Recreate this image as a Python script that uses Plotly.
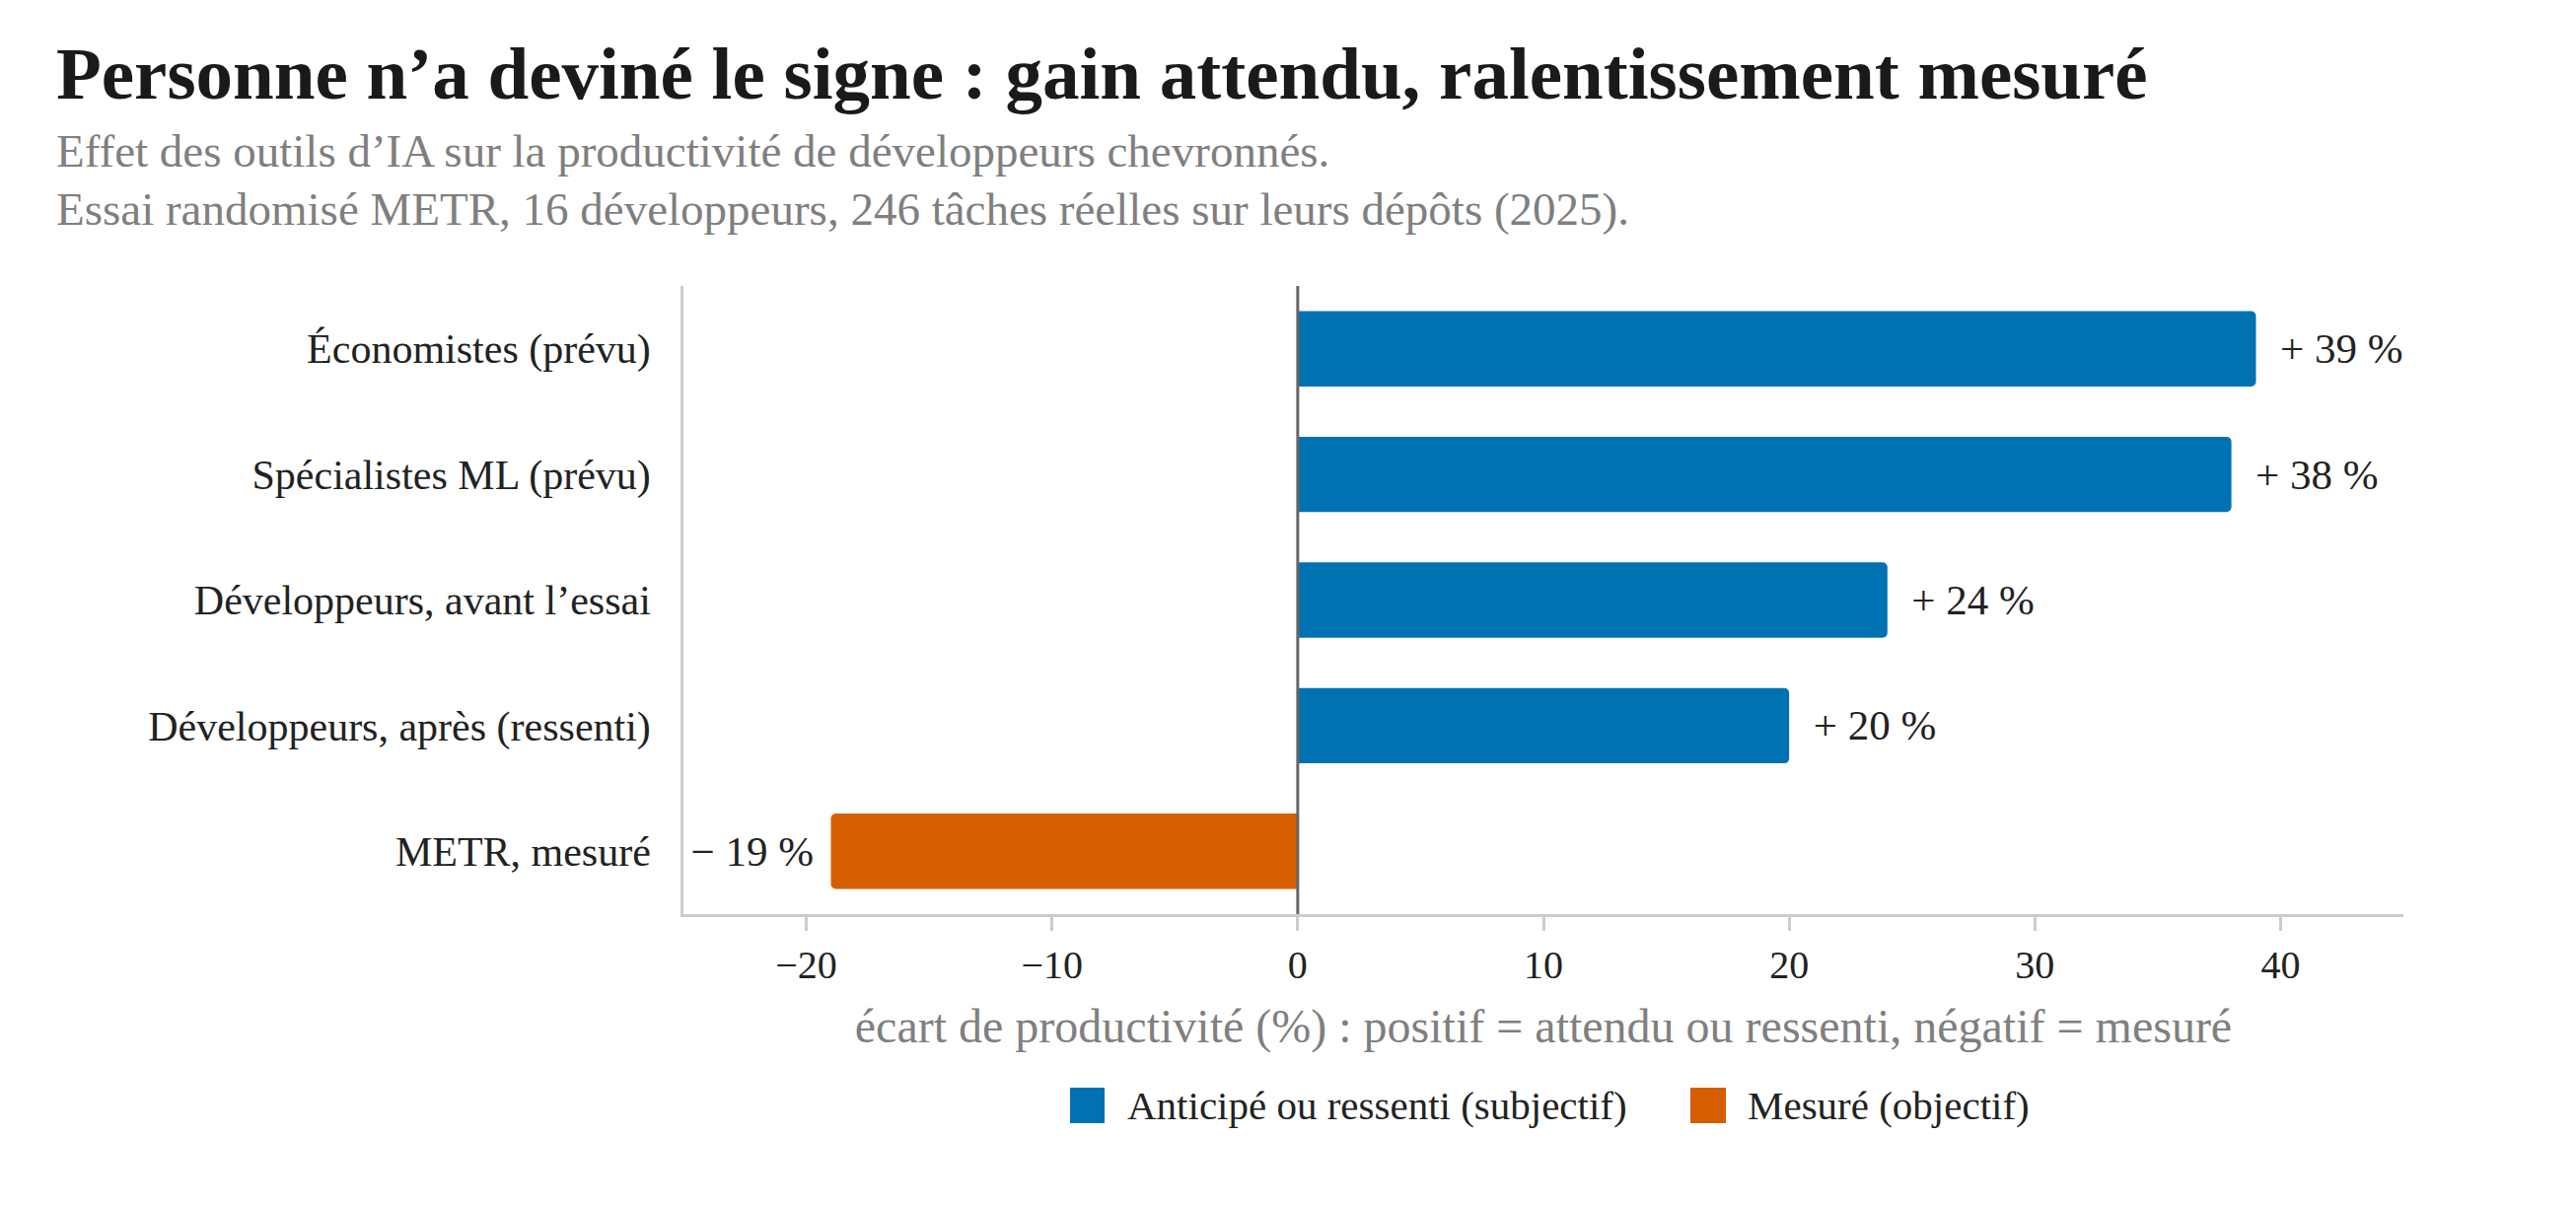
import plotly.graph_objects as go

# data
categories = [
    "Économistes (prévu)",
    "Spécialistes ML (prévu)",
    "Développeurs, avant l’essai",
    "Développeurs, après (ressenti)",
    "METR, mesuré",
]
values = [39, 38, 24, 20, -19]
measured = [False, False, False, False, True]

legend_names = ["Anticipé ou ressenti (subjectif)", "Mesuré (objectif)"]
xticks = [-20, -10, 0, 10, 20, 30, 40]

BLUE = "#0072B2"
ORANGE = "#D55E00"
FONT = "Liberation Serif"

# page size, body margin offset, plot box in page pixels
W, H, OFF = 2612, 1223, 8
L, R, T, B = 693, 175, 290, 296


def px_x(px):
    return (px - L) / (W - L - R)


def px_y(py):
    return (H - B - py) / (H - T - B)


def label(v):
    if v >= 0:
        return f"\u2002+ {v} %"
    return f"− {abs(v)} %\u2004"


fig = go.Figure()
for flag, color in [(False, BLUE), (True, ORANGE)]:
    cats = [c for c, m in zip(categories, measured) if m == flag]
    vals = [v for v, m in zip(values, measured) if m == flag]
    fig.add_trace(
        go.Bar(
            y=cats,
            x=vals,
            orientation="h",
            marker=dict(color=color, line=dict(width=0)),
            text=[label(v) for v in vals],
            textposition="outside",
            constraintext="none",
            cliponaxis=False,
            textfont=dict(family=FONT, size=43, color="#222222"),
            showlegend=False,
        )
    )

# zero line on top of the bars
fig.add_shape(
    type="line", xref="x", yref="paper", x0=0, x1=0, y0=0, y1=1,
    line=dict(color="#666666", width=3), layer="above",
)

# hand-made legend (big squares)
sq_x = [(1085, 1120), (1714, 1750)]
txt_x = [1141, 1770]
for (x0, x1), tx, name, color in zip(sq_x, txt_x, legend_names, [BLUE, ORANGE]):
    fig.add_shape(
        type="rect", xref="paper", yref="paper",
        x0=px_x(x0), x1=px_x(x1), y0=px_y(1139), y1=px_y(1103),
        fillcolor=color, line=dict(width=0),
    )
    fig.add_annotation(
        text=name, xref="paper", yref="paper", x=px_x(tx), y=px_y(1121),
        xanchor="left", yanchor="middle", showarrow=False,
        font=dict(family=FONT, size=41, color="#222222"),
    )

# title + subtitle
fig.add_annotation(
    text="<b>Personne n’a deviné le signe : gain attendu, ralentissement mesuré</b>",
    xref="paper", yref="paper", x=px_x(55), y=px_y(74),
    xanchor="left", yanchor="middle", showarrow=False,
    font=dict(family=FONT, size=75, color="#1a1a1a"),
)
subtitle = [
    "Effet des outils d’IA sur la productivité de développeurs chevronnés.",
    "Essai randomisé METR, 16 développeurs, 246 tâches réelles sur leurs dépôts (2025).",
]
for line, py in zip(subtitle, [153, 212]):
    fig.add_annotation(
        text=line, xref="paper", yref="paper", x=px_x(55), y=px_y(py),
        xanchor="left", yanchor="middle", showarrow=False,
        font=dict(family=FONT, size=47, color="#7f7f7f"),
    )

fig.update_layout(
    width=W - OFF,
    height=H - OFF,
    margin=dict(l=L - OFF, r=R, t=T - OFF, b=B, pad=0),
    paper_bgcolor="white",
    plot_bgcolor="white",
    barmode="relative",
    bargap=0.4,
    barcornerradius=5,
    font=dict(family=FONT, color="#222222"),
)
fig.update_xaxes(
    range=[-25, 45],
    tickvals=xticks,
    showgrid=False,
    zeroline=False,
    showline=True,
    linecolor="#cccccc",
    linewidth=2.5,
    ticks="outside",
    ticklen=14,
    tickwidth=2.5,
    tickcolor="#cccccc",
    tickfont=dict(family=FONT, size=40, color="#222222"),
    title=dict(
        text="écart de productivité (%) : positif = attendu ou ressenti, négatif = mesuré",
        font=dict(family=FONT, size=48, color="#7f7f7f"),
        standoff=24,
    ),
)
fig.update_yaxes(
    categoryorder="array",
    categoryarray=categories,
    range=[4.5, -0.5],
    showgrid=False,
    zeroline=False,
    showline=True,
    linecolor="#cccccc",
    linewidth=2.5,
    ticks="",
    ticklabelstandoff=22,
    tickfont=dict(family=FONT, size=42, color="#222222"),
)

fig.write_html("out.html")
